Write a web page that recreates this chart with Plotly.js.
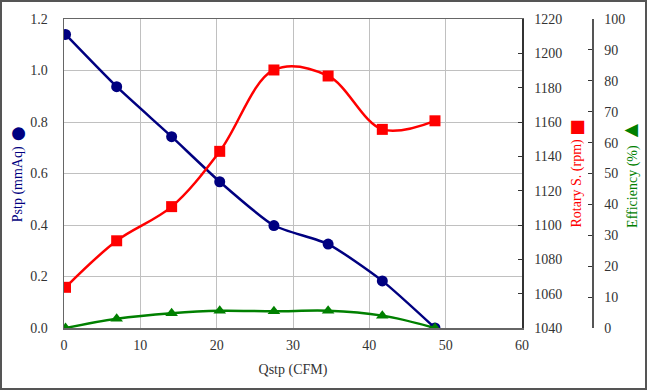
<!DOCTYPE html>
<html>
<head>
<meta charset="utf-8">
<script src="https://cdn.plot.ly/plotly-3.0.1.min.js"></script>
<style>
  html, body { margin: 0; padding: 0; background: #fff; }
  #chart { position: absolute; left: 0; top: 0; width: 647px; height: 390px; }
  #frame { position: absolute; left: 0; top: 0; width: 647px; height: 390px; box-sizing: border-box; border: 2px solid #555; pointer-events: none; }
</style>
</head>
<body>
<div id="chart"></div>
<div id="frame"></div>
<script>
// Data
const qstp = [0.2, 6.9, 14.1, 20.4, 27.5, 34.6, 41.7, 48.6];
const pstp = [1.140, 0.937, 0.743, 0.568, 0.398, 0.326, 0.183, 0.0];
const rotary = [1063.7, 1090.8, 1110.7, 1142.9, 1190.3, 1186.8, 1155.7, 1160.7];
const efficiency = [0.0, 3.0, 4.8, 5.6, 5.4, 5.6, 4.0, 0.0];

const xTicks = [0, 10, 20, 30, 40, 50, 60];
const pTicks = [0, 0.2, 0.4, 0.6, 0.8, 1.0, 1.2];
const rTicks = [1040, 1060, 1080, 1100, 1120, 1140, 1160, 1180, 1200, 1220];
const eTicks = [0, 10, 20, 30, 40, 50, 60, 70, 80, 90, 100];

const FONT = 'Liberation Serif, Times New Roman, serif';
const NAVY = '#000080', RED = '#ff0000', GREEN = '#008000';

const traces = [
  { x: qstp, y: pstp, yaxis: 'y', mode: 'lines+markers', type: 'scatter',
    line: { color: NAVY, width: 2.5, shape: 'spline', smoothing: 0.6 },
    marker: { color: NAVY, size: 11, symbol: 'circle' } },
  { x: qstp, y: rotary, yaxis: 'y2', mode: 'lines+markers', type: 'scatter',
    line: { color: RED, width: 2.5, shape: 'spline', smoothing: 1 },
    marker: { color: RED, size: 11, symbol: 'square' } },
  { x: qstp, y: efficiency, yaxis: 'y3', mode: 'lines+markers', type: 'scatter',
    line: { color: GREEN, width: 2.5, shape: 'spline', smoothing: 1 },
    marker: { color: GREEN, size: 11, symbol: 'triangle-up' } }
];

const layout = {
  width: 647, height: 390,
  margin: { l: 64, r: 55, t: 19, b: 62 },
  paper_bgcolor: '#fff', plot_bgcolor: '#fff',
  showlegend: false,
  font: { family: FONT, size: 14, color: '#333' },
  xaxis: {
    domain: [0, (522 - 64) / 528],
    range: [0, 60], tickvals: xTicks, ticktext: xTicks.map(String),
    showgrid: true, gridcolor: '#c0c0c0', gridwidth: 1,
    showline: true, linecolor: '#666', linewidth: 1.5, mirror: true,
    zeroline: false, ticks: '', ticklabelstandoff: 4,
    tickfont: { family: FONT, size: 14, color: '#333' },
    title: { text: 'Qstp (CFM)', font: { family: FONT, size: 14, color: '#333' }, standoff: 12 }
  },
  yaxis: {
    range: [0, 1.2], tickvals: pTicks, ticktext: pTicks.map(v => v.toFixed(1)),
    showgrid: true, gridcolor: '#c0c0c0', gridwidth: 1,
    showline: true, linecolor: '#666', linewidth: 1.5,
    zeroline: false, ticks: '', ticklabelstandoff: 12,
    tickfont: { family: FONT, size: 14, color: '#333' },
    title: { text: 'Pstp (mmAq) <span style="font-size:30px;baseline-shift:-5px">●</span>', font: { family: FONT, size: 14, color: NAVY }, standoff: 4 }
  },
  yaxis2: {
    overlaying: 'y', side: 'right', anchor: 'x',
    range: [1040, 1220], tickvals: rTicks, ticktext: rTicks.map(String),
    showgrid: false, showline: true, linecolor: '#333', linewidth: 1.5,
    zeroline: false, ticks: 'inside', ticklen: 4, tickcolor: '#333',
    ticklabelstandoff: 8,
    tickfont: { family: FONT, size: 14, color: '#333' },
    title: { text: 'Rotary S. (rpm) <span style="font-size:27px;baseline-shift:-5px">■</span>', font: { family: FONT, size: 14, color: RED }, standoff: 0 }
  },
  yaxis3: {
    overlaying: 'y', side: 'right', anchor: 'free', position: 1,
    range: [0, 100], tickvals: eTicks, ticktext: eTicks.map(String),
    showgrid: false, showline: true, linecolor: '#555', linewidth: 1.5,
    zeroline: false, ticks: 'inside', ticklen: 4, tickcolor: '#333',
    ticklabelstandoff: 8,
    tickfont: { family: FONT, size: 14, color: '#333' },
    title: { text: 'Efficiency (%) <span style="font-size:23px;baseline-shift:-1px">▲</span>', font: { family: FONT, size: 14, color: GREEN }, standoff: 0 }
  }
};

Plotly.newPlot('chart', traces, layout, { displayModeBar: false, staticPlot: true });
</script>
</body>
</html>
